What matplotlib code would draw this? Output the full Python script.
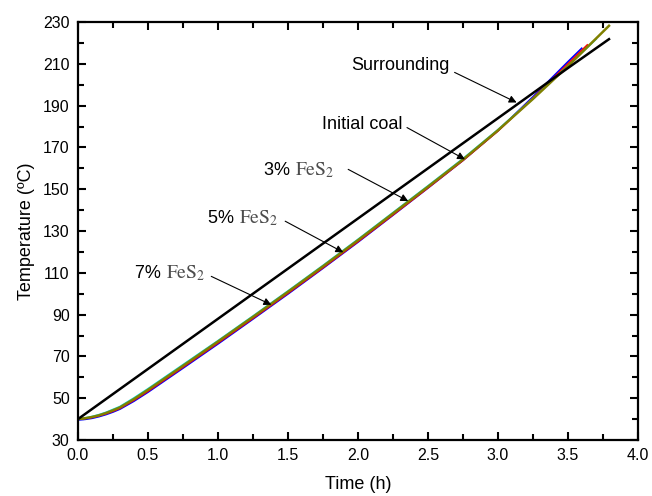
import matplotlib
matplotlib.use("Agg")
import matplotlib.pyplot as plt
from matplotlib.ticker import MultipleLocator

plt.rcParams['font.family'] = ['Liberation Sans', 'DejaVu Sans']
plt.rcParams['mathtext.fontset'] = 'stix'

# 数据
t_sur = [0.0, 0.5, 1.0, 1.5, 2.0, 2.5, 3.0, 3.5, 3.793]
T_sur = [40.0, 64.0, 88.0, 112.0, 136.0, 160.0, 184.0, 208.0, 221.8]

t_olive = [0.0, 0.05, 0.1, 0.15, 0.2, 0.25, 0.3, 0.4, 0.5, 0.75, 1.0, 1.25, 1.5, 1.75, 2.0, 2.25, 2.5, 2.75, 3.0, 3.25, 3.5, 3.793]
T_olive = [40.0, 40.4, 41.0, 41.8, 42.9, 44.2, 45.6, 49.6, 54.0, 65.5, 77.1, 88.9, 100.9, 113.1, 125.6, 138.4, 151.2, 164.2, 178.2, 193.2, 208.9, 228.2]

t_cyan = [0.0, 0.05, 0.1, 0.15, 0.2, 0.25, 0.3, 0.4, 0.5, 0.75, 1.0, 1.25, 1.5, 1.75, 2.0, 2.25, 2.5, 2.75, 3.0, 3.25, 3.5, 3.7]
T_cyan = [40.0, 40.5, 41.2, 42.1, 43.2, 44.6, 46.0, 50.1, 54.5, 66.0, 77.5, 89.3, 101.3, 113.5, 126.0, 138.8, 151.6, 164.6, 178.5, 193.4, 209.1, 221.8]

t_red = [0.0, 0.05, 0.1, 0.15, 0.2, 0.25, 0.3, 0.4, 0.5, 0.75, 1.0, 1.25, 1.5, 1.75, 2.0, 2.25, 2.5, 2.75, 3.0, 3.25, 3.5, 3.638]
T_red = [40.0, 40.3, 40.8, 41.6, 42.6, 43.8, 45.2, 49.1, 53.4, 64.9, 76.5, 88.3, 100.3, 112.5, 125.0, 137.8, 150.7, 163.8, 177.9, 193.6, 210.0, 219.0]

t_blue = [0.0, 0.05, 0.1, 0.15, 0.2, 0.25, 0.3, 0.4, 0.5, 0.75, 1.0, 1.25, 1.5, 1.75, 2.0, 2.25, 2.5, 2.75, 3.0, 3.25, 3.5, 3.598]
T_blue = [39.6, 39.9, 40.4, 41.2, 42.2, 43.4, 44.8, 48.6, 52.9, 64.4, 76.0, 87.9, 99.9, 112.2, 124.7, 137.6, 150.6, 163.8, 178.0, 194.2, 211.0, 217.4]

# 标注: 文字位置, 箭头起点, 箭头终点
pct = ['', '', '3% ', '5% ', '7% ']
names = ['Surrounding', 'Initial coal', r'$\mathrm{FeS_2}$', r'$\mathrm{FeS_2}$', r'$\mathrm{FeS_2}$']
label_left = [(1.95, 209.0), (1.74, 181.0), (1.33, 159.0), (0.93, 136.0), (0.41, 109.6)]
arrow_tail = [(2.69, 205.9), (2.35, 179.5), (1.93, 159.5), (1.48, 134.7), (0.952, 108.3)]
arrow_tip = [(3.133, 191.5), (2.764, 164.3), (2.359, 144.3), (1.895, 119.8), (1.381, 94.7)]

fig = plt.figure(figsize=(6.52, 4.96), dpi=100)
ax = fig.add_axes([0.1196, 0.1129, 0.8589, 0.8427])

ax.plot(t_blue, T_blue, color='#0000ff', lw=1.3)
ax.plot(t_red, T_red, color='#ff0000', lw=1.3)
ax.plot(t_cyan, T_cyan, color='#00e0e0', lw=1.3)
ax.plot(t_olive, T_olive, color='#808000', lw=1.8)
ax.plot(t_sur, T_sur, color='black', lw=1.8)

for p, s, xy, a, b in zip(pct, names, label_left, arrow_tail, arrow_tip):
    if p:
        t1 = ax.text(xy[0], xy[1], p, ha='left', va='center', fontsize=13)
        ax.annotate(s, xy=(1, 0.5), xycoords=t1, ha='left', va='center',
                    fontsize=14, color='0.3')
    else:
        ax.text(xy[0], xy[1], s, ha='left', va='center', fontsize=13)
    ax.annotate('', xy=b, xytext=a,
                arrowprops=dict(arrowstyle='-|>', lw=0.8, color='black',
                                mutation_scale=11, shrinkA=0, shrinkB=0))

ax.set_xlim(0, 4.0)
ax.set_ylim(30, 230)
ax.set_xticks([0, 0.5, 1.0, 1.5, 2.0, 2.5, 3.0, 3.5, 4.0])
ax.set_xticklabels(['0.0', '0.5', '1.0', '1.5', '2.0', '2.5', '3.0', '3.5', '4.0'])
ax.xaxis.set_minor_locator(MultipleLocator(0.25))
ax.set_yticks(range(30, 231, 20))
ax.yaxis.set_minor_locator(MultipleLocator(10))

ax.tick_params(which='both', direction='in', top=True, right=True, labelsize=11.5, width=1.5)
ax.tick_params(which='major', length=6, pad=6)
ax.tick_params(which='minor', length=4)
for tk in ax.xaxis.get_major_ticks() + ax.xaxis.get_minor_ticks():
    tk.tick2line.set_color('0.85')
for sp in ax.spines.values():
    sp.set_linewidth(1.6)

ax.set_xlabel('Time (h)', fontsize=13, labelpad=9)
ax.set_ylabel('Temperature (ºC)', fontsize=13, labelpad=6)

fig.savefig('out.png', dpi=100)
